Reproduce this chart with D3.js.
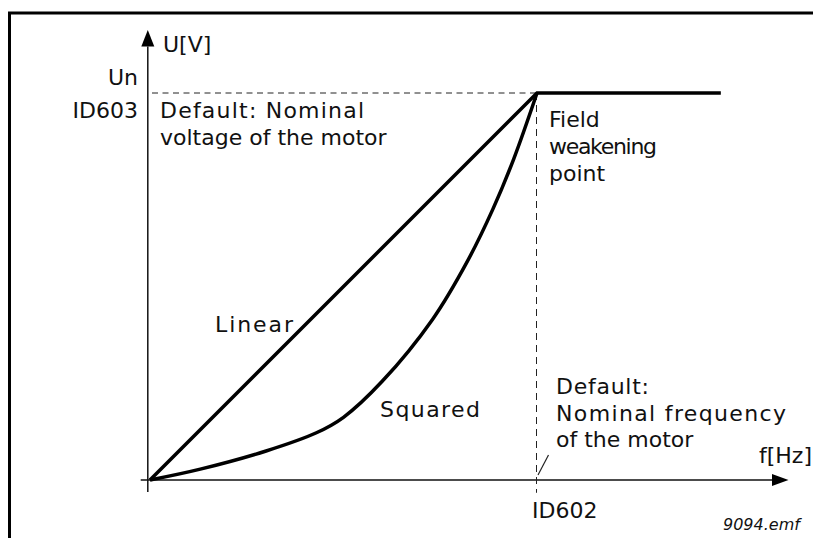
<!DOCTYPE html>
<html>
<head>
<meta charset="utf-8">
<script src="https://cdn.jsdelivr.net/npm/d3@7"></script>
<style>
  html, body { margin: 0; padding: 0; background: #fff; }
  svg { display: block; }
  text { font-family: "DejaVu Sans", "Roboto", sans-serif; fill: #111; }
</style>
</head>
<body>
<svg id="chart" width="813" height="538"></svg>
<script>
// U/f curve: frequency and voltage in per-unit of the field weakening point
const linearF = [0, 1, 1.475];
const linearU = [0, 1, 1];
const squaredF = [0, 0.13, 0.30, 0.43, 0.50, 0.60, 0.73, 0.82, 0.886, 0.94, 1];
const squaredU = [0, 0.028, 0.075, 0.122, 0.162, 0.255, 0.415, 0.565, 0.70, 0.83, 1];
const fieldWeakening = { f: 1, u: 1 };
const axisLabels = { x: "f[Hz]", y: "U[V]" };
const yTickLabels = ["Un", "ID603"];
const xTickLabels = ["ID602"];
const curveLabels = ["Linear", "Squared"];
const voltageNote = ["Default: Nominal", "voltage of the motor"];
const fwpNote = ["Field", "weakening", "point"];
const freqNote = ["Default:", "Nominal frequency", "of the motor"];
const fileTag = "9094.emf";

const svg = d3.select("#chart");
const x = d3.scaleLinear().domain([0, 1]).range([150, 537]);
const y = d3.scaleLinear().domain([0, 1]).range([480, 93]);

// frame
svg.append("path")
  .attr("d", "M9.5,538 L9.5,13 L813,13")
  .attr("fill", "none").attr("stroke", "#000").attr("stroke-width", 3);

// x axis with arrow head
const xArrowBase = 772, xArrowTip = 788.5;
svg.append("line")
  .attr("x1", x(-0.024)).attr("x2", xArrowBase)
  .attr("y1", y(0)).attr("y2", y(0))
  .attr("stroke", "#111").attr("stroke-width", 1.5);
svg.append("path")
  .attr("d", `M${xArrowBase},${y(0) - 6} L${xArrowTip},${y(0)} L${xArrowBase},${y(0) + 6} Z`)
  .attr("fill", "#000");

// y axis with arrow head
const yAxisX = 147.8, yArrowBase = 46.5, yArrowTip = 30;
svg.append("line")
  .attr("x1", yAxisX).attr("x2", yAxisX)
  .attr("y1", y(-0.031)).attr("y2", yArrowBase)
  .attr("stroke", "#111").attr("stroke-width", 1.5);
svg.append("path")
  .attr("d", `M${yAxisX - 6.5},${yArrowBase} L${yAxisX},${yArrowTip} L${yAxisX + 6.5},${yArrowBase} Z`)
  .attr("fill", "#000");

// dashed guides through the field weakening point
svg.append("line")
  .attr("x1", x(0) + 2).attr("x2", x(fieldWeakening.f))
  .attr("y1", y(fieldWeakening.u)).attr("y2", y(fieldWeakening.u))
  .attr("stroke", "#222").attr("stroke-width", 1).attr("stroke-dasharray", "6,4.5");
svg.append("line")
  .attr("x1", x(fieldWeakening.f) - 0.5).attr("x2", x(fieldWeakening.f) - 0.5)
  .attr("y1", y(fieldWeakening.u)).attr("y2", y(-0.033))
  .attr("stroke", "#222").attr("stroke-width", 1).attr("stroke-dasharray", "7,5");

// linear and squared characteristics
const linePath = d3.line().x(d => x(d[0])).y(d => y(d[1]));
svg.append("path")
  .datum(linearF.map((f, i) => [f, linearU[i]]))
  .attr("d", linePath)
  .attr("fill", "none").attr("stroke", "#000").attr("stroke-width", 3.5)
  .attr("stroke-linejoin", "miter");
svg.append("path")
  .datum(squaredF.map((f, i) => [f, squaredU[i]]))
  .attr("d", d3.line().x(d => x(d[0])).y(d => y(d[1])).curve(d3.curveCatmullRom.alpha(0.5)))
  .attr("fill", "none").attr("stroke", "#000").attr("stroke-width", 3.5);

// leader from the frequency note to the axis
svg.append("line")
  .attr("x1", 538).attr("y1", 475).attr("x2", 548.5).attr("y2", 455)
  .attr("stroke", "#222").attr("stroke-width", 1.2);

// typeset widths of the labels whose letter spacing is wider than the fallback font
const fitWidth = {
  "Default: Nominal": 204,
  "Linear": 78,
  "Squared": 100,
  "Nominal frequency": 230,
  "weakening": 108,
  "Default:": 93
};
const fs = 22;
function lines(arr, x0, y0, dy = 0, anchor = "start") {
  arr.forEach((t, i) => {
    const el = svg.append("text").attr("x", x0).attr("y", y0 + i * dy)
      .attr("font-size", fs).attr("text-anchor", anchor).text(t);
    if (fitWidth[t]) el.attr("textLength", fitWidth[t]).attr("lengthAdjust", "spacing");
  });
}
lines([axisLabels.y], 163, 52);
lines(yTickLabels, 138, 85, 33, "end");
lines(voltageNote, 160, 118, 27);
lines(fwpNote, 549, 127, 27);
lines([curveLabels[0]], 215, 332);
lines([curveLabels[1]], 380, 417);
lines(freqNote, 556, 394, 26.5);
lines([axisLabels.x], 759, 463);
lines(xTickLabels, 532, 518);

svg.append("text").attr("x", 723).attr("y", 530)
  .attr("font-size", 16).attr("font-style", "italic").text(fileTag);
</script>
</body>
</html>
